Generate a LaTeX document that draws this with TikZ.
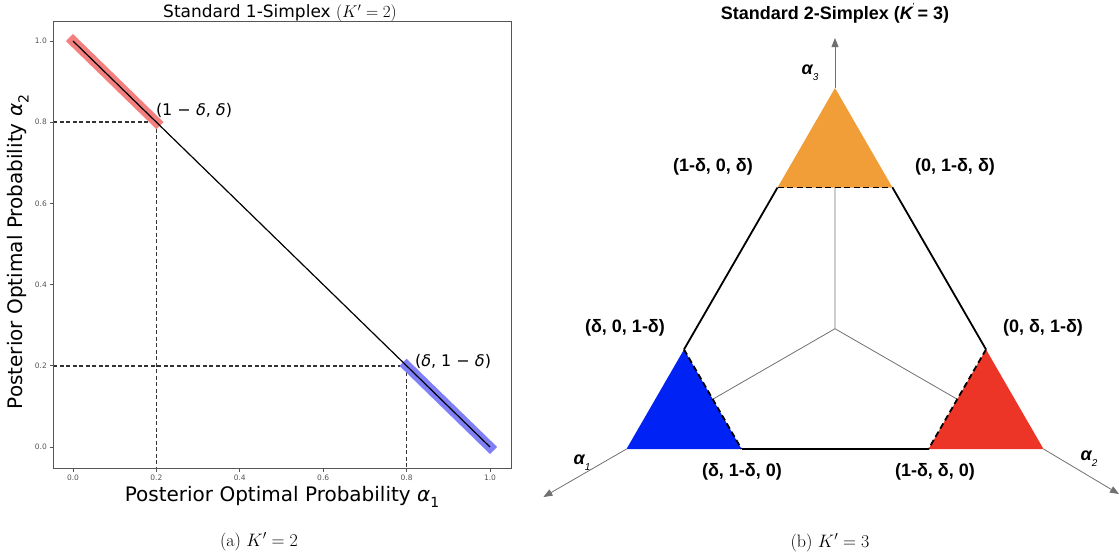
\documentclass[tikz,border=0pt]{standalone}
\usepackage{fix-cm}
\usepackage{fontspec}
\usetikzlibrary{arrows.meta,calc}
\newfontfamily\djv{DejaVu Sans}
\newfontfamily\lsans{Liberation Sans}
\definecolor{framegray}{HTML}{555555}
\definecolor{ticktext}{HTML}{555555}
\definecolor{dashgray}{HTML}{333333}
\definecolor{lightred}{HTML}{F47F7F}
\definecolor{lightblue}{HTML}{7F7FF8}
\definecolor{simorange}{HTML}{F29E38}
\definecolor{simblue}{HTML}{0022F5}
\definecolor{simred}{HTML}{EC3526}
\definecolor{axisgray}{HTML}{707070}
\tikzset{
  frameline/.style={draw=framegray, line width=0.9pt},
  tickmark/.style={draw=framegray, line width=0.7pt},
  ticklab/.style={text=ticktext, font=\djv\fontsize{7.5}{9}\selectfont, inner sep=0pt},
  guide/.style={draw=dashgray, line width=1.5pt, dash pattern=on 4pt off 2.5pt},
  band/.style={line width=10pt, line cap=rect},
  simline/.style={draw=black, line width=1.2pt},
  plotlab/.style={font=\djv\fontsize{16}{19}\selectfont, inner sep=0pt},
  axlab/.style={font=\djv\fontsize{20}{24}\selectfont, inner sep=0pt},
  caplab/.style={font=\fontsize{18}{22}\selectfont, inner sep=0pt},
  hexline/.style={draw=black, line width=1.8pt},
  hexdash/.style={draw=black, line width=1.8pt, dash pattern=on 6pt off 3.5pt},
  inner/.style={draw=axisgray, line width=0.8pt},
  axarrow/.style={draw=axisgray, line width=0.8pt, -{Triangle[length=9pt,width=7pt]}, color=axisgray},
  vlab/.style={font=\lsans\bfseries\fontsize{18}{22}\selectfont, inner sep=0pt},
  alab/.style={font=\lsans\bfseries\fontsize{18}{22}\selectfont, inner sep=0pt}
}
\newcommand{\dsub}[1]{\raisebox{-0.3em}{\fontsize{14}{14}\selectfont #1}}
\newcommand{\asub}[1]{\raisebox{-0.35em}{\fontsize{10}{10}\selectfont\mdseries #1}}
\begin{document}
\begin{tikzpicture}[x=1pt,y=-1pt]
\useasboundingbox (0,0) rectangle (1119,558);
% ================= left plot =================
\coordinate (FTL) at (53,21);
\coordinate (FBR) at (511,468);
\coordinate (P0) at (73,41);      % (0,1)
\coordinate (P1) at (156.4,122.2); % (0.2,0.8)
\coordinate (P2) at (406.6,365.8); % (0.8,0.2)
\coordinate (P3) at (490,447);    % (1,0)
% dashed guides
\draw[guide] (53,122.2) -- (P1);
\draw[guide] (P1) -- (156.4,468);
\draw[guide] (53,365.8) -- (P2);
\draw[guide] (P2) -- (406.6,468);
% frame
\draw[frameline] (FTL) rectangle (FBR);
% ticks and labels
\foreach \u/\t in {0/0.0,1/0.2,2/0.4,3/0.6,4/0.8,5/1.0}{
  \pgfmathsetmacro{\xx}{73+83.4*\u}
  \pgfmathsetmacro{\yy}{447-81.2*\u}
  \draw[tickmark] (\xx,468) -- (\xx,471.5);
  \node[ticklab, anchor=north] (xt\u) at (\xx,474.5) {\t};
  \draw[tickmark] (53,\yy) -- (49.5,\yy);
  \node[ticklab, anchor=east] (yt\u) at (47,\yy) {\t};
}
% colored bands
\draw[band, lightred] (P0) -- (P1);
\draw[band, lightblue] (P2) -- (P3);
% simplex line
\draw[simline] (P0) -- (P3);
% labels
\node[plotlab] (lab1) at (194,110) {(1 − {\itshape δ}, {\itshape δ})};
\node[plotlab] (lab2) at (453,361) {({\itshape δ}, 1 − {\itshape δ})};
\node[font=\djv\fontsize{17}{20}\selectfont, inner sep=0pt] (ltitle) at (280,13) {Standard 1-Simplex $(K'=2)$};
\node[axlab] (xlab) at (282,497) {Posterior Optimal Probability {\itshape α}\dsub{1}};
\node[axlab, rotate=90] (ylab) at (18,252) {Posterior Optimal Probability {\itshape α}\dsub{2}};
\node[caplab] (capa) at (259,542) {(a) $K' = 2$};
% ================= right plot =================
\coordinate (A1) at (626.5,449);
\coordinate (A2) at (1043.5,449);
\coordinate (A3) at (835,88);
\coordinate (C) at (835,328.7);
\coordinate (P31) at ($(A3)!0.2758!(A1)$);
\coordinate (P32) at ($(A3)!0.2758!(A2)$);
\coordinate (P13) at ($(A1)!0.2758!(A3)$);
\coordinate (P12) at ($(A1)!0.2758!(A2)$);
\coordinate (P23) at ($(A2)!0.2758!(A3)$);
\coordinate (P21) at ($(A2)!0.2758!(A1)$);
\coordinate (T1) at (543.4,497);
\coordinate (T2) at (1119,494);
\coordinate (T3) at (835,38);
% filled corners
\fill[simorange] (A3) -- (P31) -- (P32) -- cycle;
\fill[simblue] (A1) -- (P13) -- (P12) -- cycle;
\fill[simred] (A2) -- (P21) -- (P23) -- cycle;
% inner gray lines
\draw[inner] (C) -- ($(P31)!0.5!(P32)$);
\draw[inner] (C) -- ($(P13)!0.5!(P12)$);
\draw[inner] (C) -- ($(P23)!0.5!(P21)$);
% axes arrows
\draw[axarrow] (A1) -- (T1);
\draw[axarrow] (A2) -- (T2);
\draw[axarrow] (A3) -- (T3);
% hexagon
\draw[hexline] (P31) -- (P13);
\draw[hexline] (P32) -- (P23);
\draw[hexline] (P12) -- (P21);
\draw[hexdash] (P31) -- (P32);
\draw[hexdash] (P13) -- (P12);
\draw[hexdash] (P23) -- (P21);
% vertex labels
\node[vlab] (v31) at (713,167) {(1-δ, 0, δ)};
\node[vlab] (v32) at (955,167) {(0, 1-δ, δ)};
\node[vlab] (v13) at (625,328) {(δ, 0, 1-δ)};
\node[vlab] (v23) at (1043,328) {(0, δ, 1-δ)};
\node[vlab] (v12) at (742,472) {(δ, 1-δ, 0)};
\node[vlab] (v21) at (935,472) {(1-δ, δ, 0)};
\node[alab] (a3) at (810,73) {\itshape α\asub{3}};
\node[alab] (a1) at (582,463) {\itshape α\asub{1}};
\node[alab] (a2) at (1089,459) {\itshape α\asub{2}};
\node[font=\lsans\bfseries\fontsize{18}{22}\selectfont, inner sep=0pt] (rtitle) at (835,13) {Standard 2-Simplex ({\itshape K}\raisebox{0.55em}{\fontsize{9}{9}\selectfont\mdseries '}\,= 3)};
\node[caplab] (capb) at (830,543) {(b) $K' = 3$};
\end{tikzpicture}
\end{document}
